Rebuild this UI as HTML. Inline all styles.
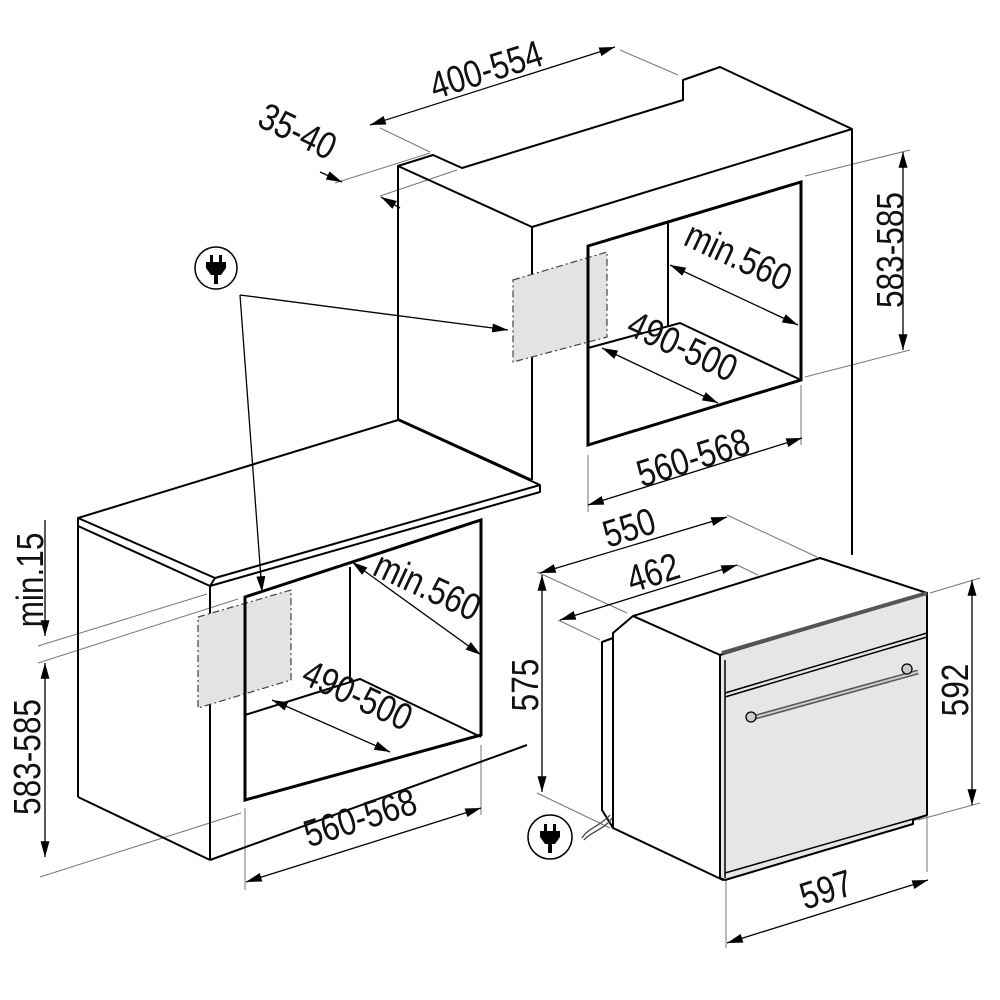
<!DOCTYPE html>
<html><head><meta charset="utf-8"><style>
html,body{margin:0;padding:0;background:#fff;}
svg{display:block;}
text{font-family:"Liberation Sans",sans-serif;font-size:34px;fill:#111;}
</style></head><body>
<svg width="1000" height="1000" viewBox="0 0 1000 1000" xmlns="http://www.w3.org/2000/svg">
<defs>
<marker id="a" viewBox="0 0 14 8" refX="14" refY="4" markerWidth="16" markerHeight="9" markerUnits="userSpaceOnUse" orient="auto-start-reverse">
<path d="M0,0 L14,4 L0,8 Z" fill="#000"/></marker>
</defs>

<g stroke="#777" stroke-width="1" fill="none">
<line x1="380" y1="128" x2="430" y2="152"/>
<line x1="620" y1="50" x2="678" y2="75"/>
<line x1="335" y1="183" x2="430" y2="153"/>
<line x1="380" y1="196" x2="457" y2="170"/>
<line x1="805" y1="176" x2="910" y2="150"/>
<line x1="805" y1="377" x2="910" y2="350"/>
<line x1="588" y1="455" x2="588" y2="512"/>
<line x1="801" y1="385" x2="801" y2="445"/>
<line x1="38" y1="646" x2="207" y2="594"/>
<line x1="38" y1="663" x2="238" y2="599"/>
<line x1="40" y1="877" x2="241" y2="813"/>
<line x1="245" y1="808" x2="245" y2="890"/>
<line x1="481" y1="745" x2="481" y2="815"/>
<line x1="727" y1="515" x2="817" y2="557"/>
<line x1="737" y1="565" x2="758" y2="575"/>
<line x1="537" y1="572" x2="627" y2="613"/>
<line x1="558" y1="620" x2="600" y2="640"/>
<line x1="537" y1="793" x2="610" y2="828"/>
<line x1="930" y1="593" x2="980" y2="578"/>
<line x1="918" y1="820" x2="980" y2="803"/>
<line x1="726" y1="880" x2="726" y2="948"/>
<line x1="927" y1="815" x2="927" y2="872"/>
</g>

<g stroke="#000" stroke-width="2" fill="none" stroke-linejoin="round">
<polyline points="398,420 398,166 433,155 462,168 683,100 683,80 720,67 852,129 852,555"/>
<polyline points="398,166 532,227 852,129"/>
<line x1="532" y1="227" x2="532" y2="480"/>
<line x1="398" y1="419" x2="532" y2="480"/>
</g>
<polygon points="513,280 607,252 607,337 513,362" fill="#e3e3e3" stroke="#444" stroke-width="1.2" stroke-dasharray="7,3,2,3"/>
<g stroke="#000" fill="none">
<polygon points="588,246 801,182 801,380 588,445" stroke-width="3"/>
<line x1="668" y1="223" x2="668" y2="327" stroke-width="2"/>
<polyline points="588,348 680,323 801,380" stroke-width="2"/>
</g>

<g stroke="#000" stroke-width="2" fill="none" stroke-linejoin="round">
<polygon points="78,518 398,420 540,485 215,578" fill="#fff"/>
<polyline points="78,518 78,526 210,586 540,492 540,485"/>
<line x1="215" y1="578" x2="210" y2="586"/>
<line x1="78" y1="526" x2="78" y2="797"/>
<line x1="78" y1="797" x2="210" y2="860"/>
<line x1="210" y1="586" x2="210" y2="860"/>
<line x1="210" y1="860" x2="527" y2="745"/>
</g>
<polygon points="198,617 291,590 291,680 198,708" fill="#e3e3e3" stroke="#444" stroke-width="1.2" stroke-dasharray="7,3,2,3"/>
<g stroke="#000" fill="none">
<polygon points="245,597 481,520 481,735 245,800" stroke-width="3"/>
<line x1="350" y1="567" x2="350" y2="682" stroke-width="2"/>
<polyline points="245,715 360,679 481,737" stroke-width="2"/>
</g>

<g stroke="#000" stroke-width="2" stroke-linejoin="round">
<polygon points="602,642 613,638 613,828 602,810" fill="#fff"/>
<polygon points="613,633 633,616 820,558 927,593 720,655 723,880 613,828" fill="#fff"/>
<line x1="633" y1="616" x2="720" y2="655"/>
<polygon points="720,655 927,593 927,815 913,820 913,824 725,880 720,878" fill="#e6e6e6"/>
<line x1="725" y1="693" x2="927" y2="633" stroke-width="1.5"/>
<line x1="725" y1="697" x2="927" y2="637" stroke-width="1.5"/>
<line x1="725" y1="660" x2="725" y2="878" stroke-width="1.5"/>
<line x1="722" y1="653" x2="927" y2="593" stroke="#555" stroke-width="4"/>
<line x1="725" y1="873" x2="927" y2="815" stroke-width="1.5"/>
</g>
<line x1="752" y1="718" x2="918" y2="672" stroke="#555" stroke-width="5"/>
<line x1="752" y1="718" x2="918" y2="672" stroke="#ccc" stroke-width="2"/>
<circle cx="751" cy="717" r="5" fill="#ccc" stroke="#000" stroke-width="1.3"/>
<circle cx="907" cy="669" r="5" fill="#ccc" stroke="#000" stroke-width="1.3"/>
<path d="M610,815 C602,825 588,828 582,838" stroke="#444" stroke-width="1.3" fill="none"/>
<path d="M612,818 C604,830 590,832 584,840" stroke="#444" stroke-width="1.3" fill="none"/>

<g stroke="#000" stroke-width="1.3">
<line x1="240" y1="295" x2="508" y2="330" marker-end="url(#a)"/>
<line x1="240" y1="295" x2="262" y2="592" marker-end="url(#a)"/>
</g>

<g stroke="#000" stroke-width="1.3">
<line x1="370" y1="125" x2="615" y2="47" marker-start="url(#a)" marker-end="url(#a)"/>
<line x1="320" y1="172" x2="342" y2="182" marker-end="url(#a)"/>
<line x1="400" y1="208" x2="381" y2="197" marker-end="url(#a)"/>
<line x1="903" y1="152" x2="903" y2="350" marker-start="url(#a)" marker-end="url(#a)"/>
<line x1="670" y1="265" x2="798" y2="325" marker-start="url(#a)" marker-end="url(#a)"/>
<line x1="602" y1="348" x2="718" y2="403" marker-start="url(#a)" marker-end="url(#a)"/>
<line x1="588" y1="505" x2="802" y2="438" marker-start="url(#a)" marker-end="url(#a)"/>
<line x1="45" y1="520" x2="45" y2="636" marker-end="url(#a)"/>
<line x1="45" y1="663" x2="45" y2="857" marker-start="url(#a)" marker-end="url(#a)"/>
<line x1="352" y1="562" x2="481" y2="655" marker-start="url(#a)" marker-end="url(#a)"/>
<line x1="272" y1="700" x2="390" y2="752" marker-start="url(#a)" marker-end="url(#a)"/>
<line x1="246" y1="882" x2="481" y2="808" marker-start="url(#a)" marker-end="url(#a)"/>
<line x1="540" y1="573" x2="727" y2="517" marker-start="url(#a)" marker-end="url(#a)"/>
<line x1="560" y1="620" x2="737" y2="565" marker-start="url(#a)" marker-end="url(#a)"/>
<line x1="542" y1="575" x2="542" y2="792" marker-start="url(#a)" marker-end="url(#a)"/>
<line x1="972" y1="580" x2="972" y2="805" marker-start="url(#a)" marker-end="url(#a)"/>
<line x1="727" y1="943" x2="928" y2="880" marker-start="url(#a)" marker-end="url(#a)"/>
</g>

<g>
<circle cx="216" cy="268" r="21" fill="#fff" stroke="#000" stroke-width="1.5"/>
<rect x="210" y="255" width="3" height="7" fill="#000"/><rect x="219" y="255" width="3" height="7" fill="#000"/>
<path d="M206,262 H226 V268 L221,275 H211 L206,268 Z" fill="#000"/>
<rect x="214" y="275" width="4" height="9" fill="#000"/>
<circle cx="550" cy="837" r="22" fill="#fff" stroke="#000" stroke-width="1.5"/>
<rect x="544" y="824" width="3" height="7" fill="#000"/><rect x="553" y="824" width="3" height="7" fill="#000"/>
<path d="M540,831 H560 V837 L555,844 H545 L540,837 Z" fill="#000"/>
<rect x="548" y="844" width="4" height="9" fill="#000"/>
</g>

<text transform="translate(490,82) rotate(-17.5) scale(0.93,1.12)" text-anchor="middle">400-554</text>
<text transform="translate(292,143) rotate(26) scale(0.93,1.12)" text-anchor="middle">35-40</text>
<text transform="translate(893,250) rotate(-90) scale(0.93,1.12)" text-anchor="middle" dominant-baseline="middle">583-585</text>
<text transform="translate(733,268) rotate(25) scale(0.93,1.12)" text-anchor="middle">min.560</text>
<text transform="translate(677,358) rotate(25) scale(0.93,1.12)" text-anchor="middle">490-500</text>
<text transform="translate(697,470) rotate(-17.5) scale(0.93,1.12)" text-anchor="middle">560-568</text>
<text transform="translate(33,580) rotate(-90) scale(0.93,1.12)" text-anchor="middle" dominant-baseline="middle">min.15</text>
<text transform="translate(30,757) rotate(-90) scale(0.93,1.12)" text-anchor="middle" dominant-baseline="middle">583-585</text>
<text transform="translate(422,598) rotate(25) scale(0.93,1.12)" text-anchor="middle">min.560</text>
<text transform="translate(352,707) rotate(25) scale(0.93,1.12)" text-anchor="middle">490-500</text>
<text transform="translate(364,830) rotate(-17.5) scale(0.93,1.12)" text-anchor="middle">560-568</text>
<text transform="translate(633,540) rotate(-17.5) scale(0.93,1.12)" text-anchor="middle">550</text>
<text transform="translate(657,585) rotate(-17.5) scale(0.93,1.12)" text-anchor="middle">462</text>
<text transform="translate(528,685) rotate(-90) scale(0.93,1.12)" text-anchor="middle" dominant-baseline="middle">575</text>
<text transform="translate(958,690) rotate(-90) scale(0.93,1.12)" text-anchor="middle" dominant-baseline="middle">592</text>
<text transform="translate(830,902) rotate(-17.5) scale(0.93,1.12)" text-anchor="middle">597</text>
</svg>
</body></html>
